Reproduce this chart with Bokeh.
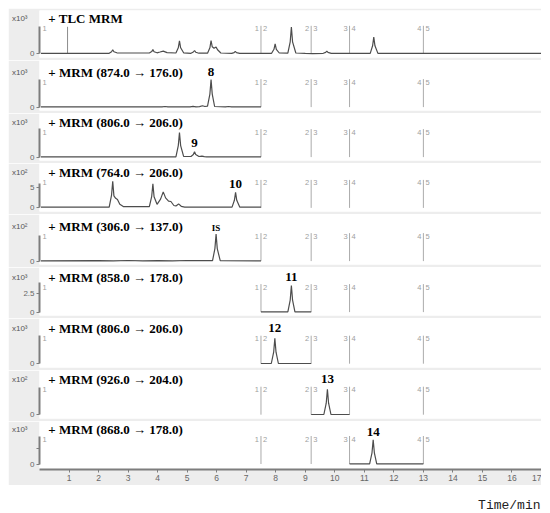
from bokeh.plotting import figure
from bokeh.layouts import column
from bokeh.models import Range1d, Label, FixedTicker, ColumnDataSource, LinearAxis
from bokeh.core.properties import value
from bokeh.embed import file_html
from bokeh.resources import INLINE

# ---------------- data ----------------
titles = ["+ TLC  MRM", "+ MRM (874.0 \u2192 176.0)", "+ MRM (806.0 \u2192 206.0)",
          "+ MRM (764.0 \u2192 206.0)", "+ MRM (306.0 \u2192 137.0)", "+ MRM (858.0 \u2192 178.0)",
          "+ MRM (806.0 \u2192 206.0)", "+ MRM (926.0 \u2192 204.0)", "+ MRM (868.0 \u2192 178.0)"]
exponents = ["3", "3", "3", "2", "2", "3", "3", "2", "3"]

tlc_t = [0.05, 2.36, 2.44, 2.48, 2.52, 2.62, 3.72, 3.80, 3.84, 3.88, 3.98, 4.08, 4.19, 4.32, 4.62,
         4.70, 4.74, 4.78, 4.88, 5.13, 5.21, 5.25, 5.29, 5.40, 5.69, 5.77, 5.81, 5.85, 5.91, 5.98,
         6.03, 6.14, 6.51, 6.59, 6.63, 6.67, 6.78, 7.86, 7.94, 7.98, 8.02, 8.12, 8.41, 8.49, 8.53,
         8.57, 8.68, 9.0, 9.25, 9.61, 9.69, 9.73, 9.77, 9.88, 11.20, 11.28, 11.32, 11.36, 11.46, 17.0]
tlc_y = [0.05, 0.05, 0.2, 0.40, 0.2, 0.1, 0.08, 0.22, 0.42, 0.2, 0.1, 0.18, 0.27, 0.12, 0.08,
         0.6, 1.30, 0.6, 0.1, 0.05, 0.18, 0.33, 0.16, 0.06, 0.06, 0.6, 1.33, 0.7, 0.55, 0.67,
         0.4, 0.08, 0.05, 0.12, 0.24, 0.12, 0.05, 0.05, 0.45, 1.0, 0.45, 0.08, 0.06, 1.2, 2.67,
         1.2, 0.08, 0.04, 0.02, 0.05, 0.14, 0.27, 0.14, 0.04, 0.04, 0.8, 1.67, 0.8, 0.04, 0.04]
tlc_marker_t = [0.95]

p2_t = [0.05, 4.15, 4.25, 4.35, 5.10, 5.20, 5.30, 5.42, 5.52, 5.60, 5.69, 5.77, 5.81, 5.85, 5.93, 6.30, 6.40, 6.50, 7.5]
p2_y = [0.02, 0.02, 0.06, 0.02, 0.02, 0.08, 0.03, 0.05, 0.14, 0.06, 0.1, 1.3, 2.75, 1.3, 0.06, 0.03, 0.06, 0.03, 0.03]

p3_t = [0.05, 4.62, 4.70, 4.74, 4.78, 4.88, 5.13, 5.21, 5.25, 5.29, 5.40, 5.50, 5.58, 5.66, 7.5]
p3_y = [0.02, 0.03, 1.15, 2.45, 1.15, 0.08, 0.06, 0.26, 0.53, 0.26, 0.06, 0.1, 0.04, 0.02, 0.02]

p4_t = [0.05, 2.36, 2.44, 2.48, 2.52, 2.58, 2.64, 2.72, 2.85, 3.72, 3.80, 3.84, 3.88, 3.98, 4.10,
        4.19, 4.27, 4.37, 4.45, 4.55, 4.62, 4.71, 4.80, 4.92, 6.52, 6.60, 6.64, 6.68, 6.78, 7.5]
p4_y = [0.2, 0.2, 3.2, 6.65, 3.0, 2.4, 2.1, 0.9, 0.3, 0.3, 2.9, 6.0, 2.8, 0.9, 2.2,
        4.0, 2.5, 1.7, 1.6, 0.6, 0.5, 1.0, 0.4, 0.2, 0.2, 1.9, 3.9, 1.9, 0.2, 0.2]

p5_t = [0.05, 2.0, 2.5, 3.0, 3.5, 4.0, 4.5, 5.0, 5.5, 5.86, 5.94, 5.98, 6.02, 6.12, 7.5]
p5_y = [0.03, 0.05, 0.03, 0.06, 0.03, 0.05, 0.03, 0.06, 0.04, 0.05, 1.25, 2.7, 1.25, 0.04, 0.03]

p6_t = [7.5, 8.41, 8.49, 8.53, 8.57, 8.65, 9.2]
p6_y = [0.03, 0.03, 1.6, 3.55, 1.6, 0.03, 0.03]

p7_t = [7.5, 7.85, 7.93, 7.97, 8.01, 8.09, 9.2]
p7_y = [0.02, 0.02, 1.15, 2.55, 1.15, 0.02, 0.02]

p8_t = [9.2, 9.63, 9.71, 9.75, 9.79, 9.87, 10.5]
p8_y = [0.02, 0.02, 1.15, 2.55, 1.15, 0.02, 0.02]

p9_t = [10.5, 11.18, 11.26, 11.30, 11.34, 11.42, 13.0]
p9_y = [0.01, 0.01, 0.7, 1.52, 0.7, 0.01, 0.01]

trace_t = [tlc_t, p2_t, p3_t, p4_t, p5_t, p6_t, p7_t, p8_t, p9_t]
trace_y = [tlc_y, p2_y, p3_y, p4_y, p5_y, p6_y, p7_y, p8_y, p9_y]

ytick_vals = [[0], [0], [0], [0, 5], [0], [0, 2.5], [0], [0], [0, 1]]
ytick_text = [["0"], ["0"], ["0"], ["0", "5"], ["0"], ["0", "2.5"], ["0"], ["0"], ["0", ""]]

peak_panel = [1, 2, 3, 4, 5, 6, 7, 8]
peak_t = [5.81, 5.25, 6.64, 5.98, 8.53, 7.97, 9.75, 11.30]
peak_text = ["8", "9", "10", "IS", "11", "12", "13", "14"]

seg_t = [7.5, 9.2, 10.5, 13.0]
seg_left = ["1", "2", "3", "4"]
seg_right = ["2", "3", "4", "5"]

xticks = [1, 2, 3, 4, 5, 6, 7, 8, 9, 10, 11, 12, 13, 14, 15, 16, 17]
x_title = "Time/min"

# ---------------- layout / style ----------------
GRAY = "#ededed"
TRACE = "#4d4d4d"
AXIS = "#7d7d7d"
SEG = "#ababab"
SUP = {"2": "\u00b2", "3": "\u00b3"}
W = 533
LEFT = 31
heights = [52, 53, 50, 51, 53, 51, 52, 51, 64]
tops = [2, 0, 0, 0, 0, 0, 0, 0, 0]
bottoms = [3, 3, 3, 3, 3, 3, 3, 3, 16]
base_off = [3.7, 3.4, 3.4, 3.6, 3.4, 3.4, 3.8, 3.8, 5.5]
scale = [10, 10, 10, 4, 10, 7.5, 10, 10, 16]       # px per unit
axis_top_px = [27, 28, 29, 24, 26, 30, 28, 27, 28]
mult_standoff = [0, 0, 0, 0, 0, -7, 0, 0, 0]
seg_top_px = 28
seg_lab_px = 25
title_px = 35
peak_label_px = {"8": 35, "9": 14, "10": 24, "IS": 33, "11": 35, "12": 35.5, "13": 36, "14": 32.5}
SERIF = value("Liberation Serif")
SANS = value("Liberation Sans")

figs = []
for i in range(9):
    s = scale[i]
    fh = heights[i] - tops[i] - bottoms[i]
    last = (i == 8)
    p = figure(width=W, height=heights[i], x_range=Range1d(0, 17),
               y_range=Range1d(-base_off[i] / s, (fh - base_off[i]) / s),
               x_axis_type="linear" if last else None,
               toolbar_location=None, output_backend="svg",
               min_border_left=LEFT, min_border_right=0,
               min_border_top=tops[i], min_border_bottom=bottoms[i])
    p.border_fill_color = GRAY
    p.background_fill_color = "white"
    p.outline_line_color = None
    p.xgrid.grid_line_color = None
    p.ygrid.grid_line_color = None

    ya = p.yaxis[0]
    ya.ticker = FixedTicker(ticks=ytick_vals[i])
    ya.major_label_overrides = {v: t for v, t in zip(ytick_vals[i], ytick_text[i])}
    ya.bounds = (0, axis_top_px[i] / s)
    ya.axis_line_color = AXIS
    ya.axis_line_width = 2
    ya.major_tick_line_color = AXIS
    ya.major_tick_out = 3
    ya.major_tick_in = 0
    ya.minor_tick_line_color = None
    ya.major_label_text_font_size = "8px"
    ya.major_label_text_color = "#666666"
    ya.major_label_text_font = "Liberation Sans"
    ya.major_label_standoff = 2

    # multiplier label ("x10³") as an outer label-only axis
    ty = title_px / s
    ax2 = LinearAxis(ticker=FixedTicker(ticks=[ty]),
                     major_label_overrides={ty: "x10" + SUP[exponents[i]]},
                     axis_line_color=None, major_tick_line_color=None, minor_tick_line_color=None,
                     major_tick_out=0, major_tick_in=0, major_label_standoff=mult_standoff[i],
                     major_label_text_font_size="8px", major_label_text_color="#555555",
                     major_label_text_font="Liberation Sans")
    p.add_layout(ax2, "left")

    if last:
        xa = p.xaxis[0]
        xa.ticker = FixedTicker(ticks=xticks)
        xa.axis_line_color = AXIS
        xa.axis_line_width = 2
        xa.major_tick_line_color = AXIS
        xa.major_tick_out = 3
        xa.major_tick_in = 0
        xa.minor_tick_line_color = None
        xa.major_label_text_font_size = "8.5px"
        xa.major_label_text_color = "#666666"
        xa.major_label_text_font = "Liberation Sans"
        xa.major_label_standoff = 2

    # segment markers
    sg = ColumnDataSource(dict(x=seg_t, y0=[0] * len(seg_t), y1=[seg_top_px / s] * len(seg_t),
                               yl=[seg_lab_px / s] * len(seg_t), l=seg_left, r=seg_right))
    p.segment(x0="x", y0="y0", x1="x", y1="y1", source=sg, line_color=SEG, line_width=1)
    p.text(x="x", y="yl", text="l", source=sg, x_offset=-2, text_align="right", text_baseline="middle",
           text_font_size="7.5px", text_color="#a0a0a0", text_font=SANS)
    p.text(x="x", y="yl", text="r", source=sg, x_offset=2, text_align="left", text_baseline="middle",
           text_font_size="7.5px", text_color="#a0a0a0", text_font=SANS)
    p.text(x=[0], y=[seg_lab_px / s], text=["1"], x_offset=3, text_align="left", text_baseline="middle",
           text_font_size="7.5px", text_color="#a0a0a0", text_font=SANS)

    if i == 0:
        p.segment(x0=tlc_marker_t, y0=[0], x1=tlc_marker_t, y1=[axis_top_px[0] / s],
                  line_color="#8c8c8c", line_width=1)

    # trace
    p.line(x=trace_t[i], y=trace_y[i], line_color=TRACE, line_width=1.2)

    # peak labels
    idx = [k for k, pp in enumerate(peak_panel) if pp == i]
    if idx:
        txt = [peak_text[k] for k in idx]
        p.text(x=[peak_t[k] for k in idx], y=[peak_label_px[t] / s for t in txt], text=txt,
               text_align="center", text_baseline="middle",
               text_font_size="9px" if txt[0] == "IS" else "13px",
               text_font_style="bold", text_color="black", text_font=SERIF)

    # title
    p.add_layout(Label(x=0.3, y=ty, text=titles[i], text_font="Liberation Serif",
                       text_font_style="bold", text_font_size="13px", text_baseline="middle",
                       text_color="black"))
    figs.append(p)

ft = figure(width=W, height=27, x_range=Range1d(0, 1), y_range=Range1d(0, 1),
            x_axis_type=None, y_axis_type=None, toolbar_location=None, output_backend="svg",
            min_border=0)
ft.outline_line_color = None
ft.xgrid.grid_line_color = None
ft.ygrid.grid_line_color = None
ft.add_layout(Label(x=0.998, y=0.26, text=x_title, text_align="right", text_baseline="alphabetic",
                    text_font="Liberation Mono", text_font_size="13px", text_color="#222222"))
figs.append(ft)

layout = column(*figs, spacing=0, margin=(8, 0, 0, 8))
open("out.html", "w").write(file_html(layout, INLINE))
